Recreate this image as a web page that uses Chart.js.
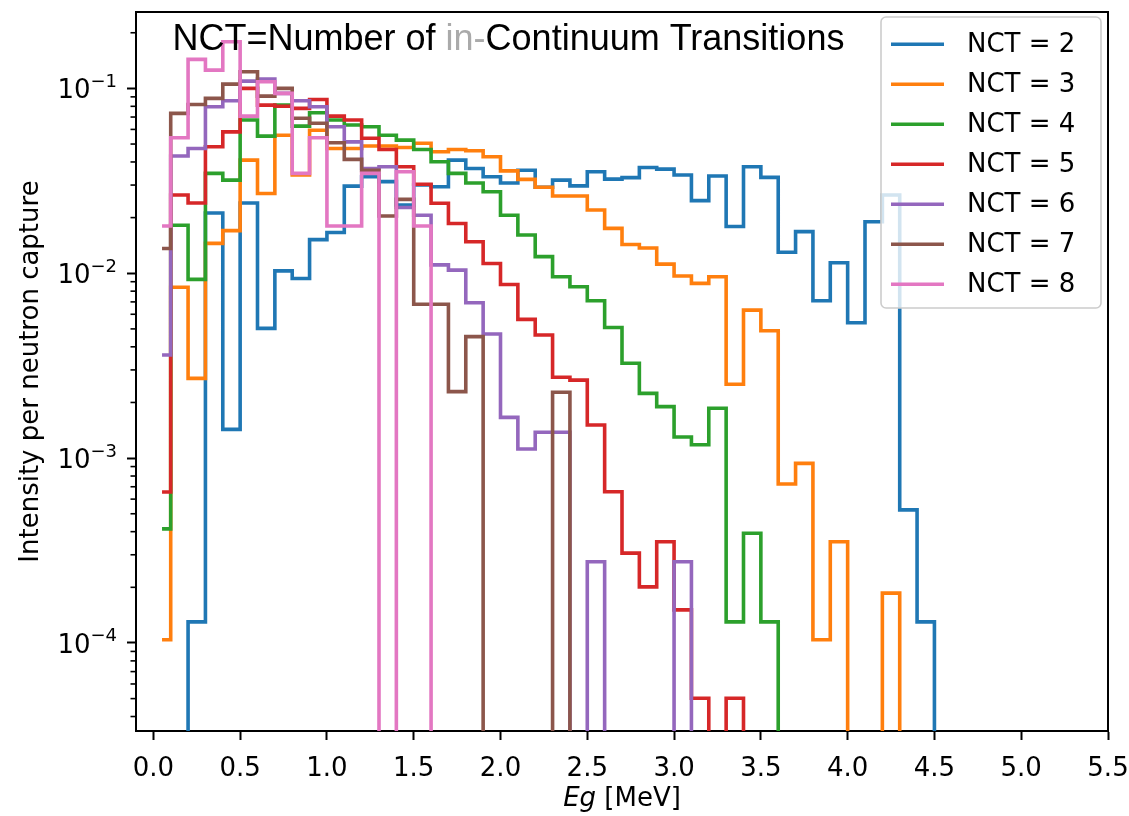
<!DOCTYPE html>
<html>
<head>
<meta charset="utf-8">
<script src="https://cdn.jsdelivr.net/npm/chart.js@4.4.0/dist/chart.umd.min.js"></script>
<style>
  html, body { margin: 0; padding: 0; background: #fff; }
  #wrap { width: 1129px; height: 816px; }
</style>
</head>
<body>
<div id="wrap"><canvas id="nctChart" width="1129" height="816"></canvas></div>
<script>
// step histograms of gamma energy per number of in-continuum transitions (log y)

// bin centres (MeV), 0.1 MeV wide bins
const binCenters = [0.05, 0.15, 0.25, 0.35, 0.45, 0.55, 0.65, 0.75, 0.85, 0.95,
    1.05, 1.15, 1.25, 1.35, 1.45, 1.55, 1.65, 1.75, 1.85, 1.95,
    2.05, 2.15, 2.25, 2.35, 2.45, 2.55, 2.65, 2.75, 2.85, 2.95,
    3.05, 3.15, 3.25, 3.35, 3.45, 3.55, 3.65, 3.75, 3.85, 3.95,
    4.05, 4.15, 4.25, 4.35, 4.45, 4.55];

const nct2 = [0, 0, 1.30e-4, 0.0212, 1.43e-3, 0.0240, 5.03e-3, 0.0103, 9.37e-3, 0.0152,
    0.0166, 0.0296, 0.0333, 0.0313, 0.0234, 0.0300, 0.0294, 0.0409, 0.0369, 0.0333,
    0.0308, 0.0361, 0.0292, 0.0319, 0.0297, 0.0354, 0.0323, 0.0329, 0.0373, 0.0366,
    0.0340, 0.0247, 0.0336, 0.0179, 0.0377, 0.0330, 0.0130, 0.0168, 7.1e-3, 0.0114,
    5.4e-3, 0.0190, 0.0265, 5.25e-4, 1.30e-4, 0];

const nct3 = [1.04e-4, 8.40e-3, 2.70e-3, 0.0145, 0.0170, 0.0409, 0.0270, 0.0558, 0.0340, 0.0594,
    0.0473, 0.0473, 0.0488, 0.0488, 0.0479, 0.0505, 0.0454, 0.0467, 0.0460, 0.0427,
    0.0358, 0.0322, 0.0292, 0.0262, 0.0262, 0.0220, 0.0175, 0.0143, 0.0137, 0.0112,
    9.66e-3, 8.82e-3, 9.57e-3, 2.51e-3, 6.32e-3, 4.89e-3, 7.24e-4, 9.37e-4, 1.04e-4, 3.53e-4,
    0, 0, 1.86e-4, 0, 0, 0];

const nct4 = [4.14e-4, 0.0182, 9.27e-3, 0.0347, 0.0319, 0.0674, 0.0552, 0.0812, 0.0625, 0.0738,
    0.0674, 0.0634, 0.0620, 0.0558, 0.0525, 0.0467, 0.0401, 0.0347, 0.0308, 0.0276,
    0.0206, 0.0161, 0.0123, 9.57e-3, 8.45e-3, 7.10e-3, 5.09e-3, 3.26e-3, 2.24e-3, 1.90e-3,
    1.30e-3, 1.18e-3, 1.86e-3, 1.30e-4, 3.92e-4, 1.30e-4, 0, 0, 0, 0,
    0, 0, 0, 0, 0, 0];

const nct5 = [6.56e-4, 0.0265, 0.0240, 0.0483, 0.0582, 0.100, 0.0812, 0.080, 0.078, 0.0871,
    0.0708, 0.0674, 0.0537, 0.0467, 0.0377, 0.0303, 0.0239, 0.0186, 0.0148, 0.0113,
    8.7e-3, 5.63e-3, 4.63e-3, 2.74e-3, 2.64e-3, 1.51e-3, 6.58e-4, 3.06e-4, 2.01e-4, 3.53e-4,
    1.51e-4, 5.02e-5, 0, 5.02e-5, 0, 0, 0, 0, 0, 0,
    0, 0, 0, 0, 0, 0];

const nct6 = [3.61e-3, 0.0431, 0.0473, 0.0795, 0.0857, 0.1095, 0.1122, 0.0940, 0.0857, 0.0795,
    0.0620, 0.0514, 0.0369, 0.0377, 0.0227, 0.0206, 0.0111, 0.0104, 6.92e-3, 4.69e-3,
    1.66e-3, 1.12e-3, 1.38e-3, 1.38e-3, 0, 2.75e-4, 0, 0, 0, 0,
    2.75e-4, 0, 0, 0, 0, 0, 0, 0, 0, 0,
    0, 0, 0, 0, 0, 0];

const nct7 = [0.0136, 0.0733, 0.0819, 0.0883, 0.1055, 0.1230, 0.0908, 0.100, 0.0689, 0.0648,
    0.0508, 0.0413, 0.0360, 0.0204, 0.0251, 6.80e-3, 6.80e-3, 2.29e-3, 4.54e-3, 0,
    0, 0, 0, 2.27e-3, 0, 0, 0, 0, 0, 0,
    0, 0, 0, 0, 0, 0, 0, 0, 0, 0,
    0, 0, 0, 0, 0, 0];

const nct8 = [0.0180, 0.0541, 0.1436, 0.1256, 0.1787, 0.0708, 0.1087, 0.0940, 0.0347, 0.0541,
    0.0180, 0.0180, 0.0347, 0, 0.0354, 0.0180, 0, 0, 0, 0,
    0, 0, 0, 0, 0, 0, 0, 0, 0, 0,
    0, 0, 0, 0, 0, 0, 0, 0, 0, 0,
    0, 0, 0, 0, 0, 0];

const seriesLabels = ['NCT = 2', 'NCT = 3', 'NCT = 4', 'NCT = 5', 'NCT = 6', 'NCT = 7', 'NCT = 8'];
const seriesColors = ['#1f77b4', '#ff7f0e', '#2ca02c', '#d62728', '#9467bd', '#8c564b', '#e377c2'];

const xTicks = [0.0, 0.5, 1.0, 1.5, 2.0, 2.5, 3.0, 3.5, 4.0, 4.5, 5.0, 5.5];
const yTicks = [1e-4, 1e-3, 1e-2, 1e-1];
const yTickExponents = ['\u22124', '\u22123', '\u22122', '\u22121'];

const xMin = -0.1, xMax = 5.5;
const yMin = 3.34e-5, yMax = 0.259;
const emptyBin = 1e-9; // empty bins fall below the axis, like matplotlib's clip

const FONT = 'DejaVu Sans';
const LINE_W = 3.6;


// frame, minor ticks, 10^n labels, legend and the texts matplotlib puts in odd places
const mplLook = {
    id: 'mplLook',
    afterDraw(chart) {
        const ctx = chart.ctx;
        const area = chart.chartArea;
        const yScale = chart.scales.y;

        ctx.save();

        // top + right spines
        ctx.strokeStyle = '#000';
        ctx.lineWidth = 2;
        ctx.beginPath();
        ctx.moveTo(area.left, area.top);
        ctx.lineTo(area.right, area.top);
        ctx.lineTo(area.right, area.bottom);
        ctx.stroke();

        // log minor ticks
        ctx.lineWidth = 1.6;
        for (let exp = -5; exp <= 0; exp++) {
            for (let m = 2; m <= 9; m++) {
                const v = m * Math.pow(10, exp);
                if (v < yMin || v > yMax) continue;
                const py = yScale.getPixelForValue(v);
                ctx.beginPath();
                ctx.moveTo(area.left - 5.5, py);
                ctx.lineTo(area.left, py);
                ctx.stroke();
            }
        }

        // y tick labels as 10 with a raised exponent
        ctx.fillStyle = '#000';
        ctx.textAlign = 'left';
        ctx.textBaseline = 'alphabetic';
        yTicks.forEach((v, i) => {
            const py = yScale.getPixelForValue(v);
            ctx.font = '18px "' + FONT + '"';
            const wSup = ctx.measureText(yTickExponents[i]).width;
            ctx.font = '26px "' + FONT + '"';
            const wBase = ctx.measureText('10').width;
            const x0 = area.left - 19 - wSup - wBase;
            ctx.fillText('10', x0, py + 10);
            ctx.font = '18px "' + FONT + '"';
            ctx.fillText(yTickExponents[i], x0 + wBase, py - 1.5);
        });

        // in-plot heading, "in-" greyed out
        ctx.font = '36px "Liberation Sans"';
        ctx.textBaseline = 'alphabetic';
        ctx.textAlign = 'left';
        let tx = 172.5;
        const parts = [['NCT=Number of ', '#000'], ['in-', '#aaaaaa'], ['Continuum Transitions', '#000']];
        parts.forEach(p => {
            ctx.fillStyle = p[1];
            ctx.fillText(p[0], tx, 49.5);
            tx += ctx.measureText(p[0]).width;
        });

        // legend, upper right
        const lgLeft = area.right - 227, lgTop = area.top + 5;
        const lgW = 220, lgH = 291;
        ctx.fillStyle = 'rgba(255,255,255,0.8)';
        ctx.strokeStyle = '#cccccc';
        ctx.lineWidth = 1.6;
        ctx.beginPath();
        ctx.roundRect(lgLeft, lgTop, lgW, lgH, 5);
        ctx.fill();
        ctx.stroke();

        ctx.font = '26px "' + FONT + '"';
        ctx.textBaseline = 'middle';
        seriesLabels.forEach((lab, i) => {
            const ly = area.top + 32.3 + i * 40;
            ctx.strokeStyle = seriesColors[i];
            ctx.lineWidth = LINE_W;
            ctx.beginPath();
            ctx.moveTo(lgLeft + 10, ly);
            ctx.lineTo(lgLeft + 63, ly);
            ctx.stroke();
            ctx.fillStyle = '#000';
            ctx.fillText(lab, lgLeft + 86, ly + 1);
        });

        // y axis title
        ctx.save();
        ctx.translate(31, (area.top + area.bottom) / 2);
        ctx.rotate(-Math.PI / 2);
        ctx.textAlign = 'center';
        ctx.textBaseline = 'middle';
        ctx.fillStyle = '#000';
        ctx.font = '26px "' + FONT + '"';
        ctx.fillText('Intensity per neutron capture', 0, 0);
        ctx.restore();

        // x axis title, Eg in italics
        const italicPart = 'Eg', plainPart = ' [MeV]';
        ctx.font = 'italic 26px "' + FONT + '"';
        const w1 = ctx.measureText(italicPart).width;
        ctx.font = '26px "' + FONT + '"';
        const w2 = ctx.measureText(plainPart).width;
        const sx = (area.left + area.right) / 2 - (w1 + w2) / 2;
        ctx.textAlign = 'left';
        ctx.textBaseline = 'alphabetic';
        ctx.fillStyle = '#000';
        ctx.font = 'italic 26px "' + FONT + '"';
        ctx.fillText(italicPart, sx, 806);
        ctx.font = '26px "' + FONT + '"';
        ctx.fillText(plainPart, sx + w1, 806);

        ctx.restore();
    }
};


const allSeries = [nct2, nct3, nct4, nct5, nct6, nct7, nct8];

const datasets = allSeries.map((vals, i) => ({
    label: seriesLabels[i],
    data: binCenters.map((x, k) => ({ x: x, y: vals[k] > 0 ? vals[k] : emptyBin })),
    borderColor: seriesColors[i],
    backgroundColor: seriesColors[i],
    borderWidth: LINE_W,
    stepped: 'middle',
    pointRadius: 0,
    fill: false,
    clip: 0,
    order: -i   // later NCT drawn on top, as in the original
}));

new Chart(document.getElementById('nctChart').getContext('2d'), {
    type: 'line',
    data: { datasets: datasets },
    options: {
        responsive: false,
        devicePixelRatio: 1,
        animation: false,
        layout: { padding: { top: 12, right: 21, left: 0, bottom: 0 } },
        plugins: {
            legend: { display: false },
            tooltip: { enabled: false }
        },
        scales: {
            x: {
                type: 'linear',
                min: xMin, max: xMax,
                afterBuildTicks: scale => { scale.ticks = xTicks.map(v => ({ value: v })); },
                afterFit: scale => {
                    scale.height = 85;
                    scale.paddingLeft = 0; scale.paddingRight = 0;
                },
                ticks: {
                    color: '#000', padding: 14, maxRotation: 0, autoSkip: false,
                    font: { family: FONT, size: 26 },
                    callback: v => v.toFixed(1)
                },
                grid: { drawOnChartArea: false, tickLength: 9, tickColor: '#000', tickWidth: 2 },
                border: { display: true, color: '#000', width: 2 }
            },
            y: {
                type: 'logarithmic',
                min: yMin, max: yMax,
                afterBuildTicks: scale => { scale.ticks = yTicks.map(v => ({ value: v, major: true })); },
                afterFit: scale => {
                    scale.width = 136;
                    scale.paddingTop = 0; scale.paddingBottom = 0;
                },
                ticks: { autoSkip: false, callback: () => '' },
                grid: { drawOnChartArea: false, tickLength: 9, tickColor: '#000', tickWidth: 2 },
                border: { display: true, color: '#000', width: 2 }
            }
        }
    },
    plugins: [mplLook]
});
</script>
</body>
</html>
